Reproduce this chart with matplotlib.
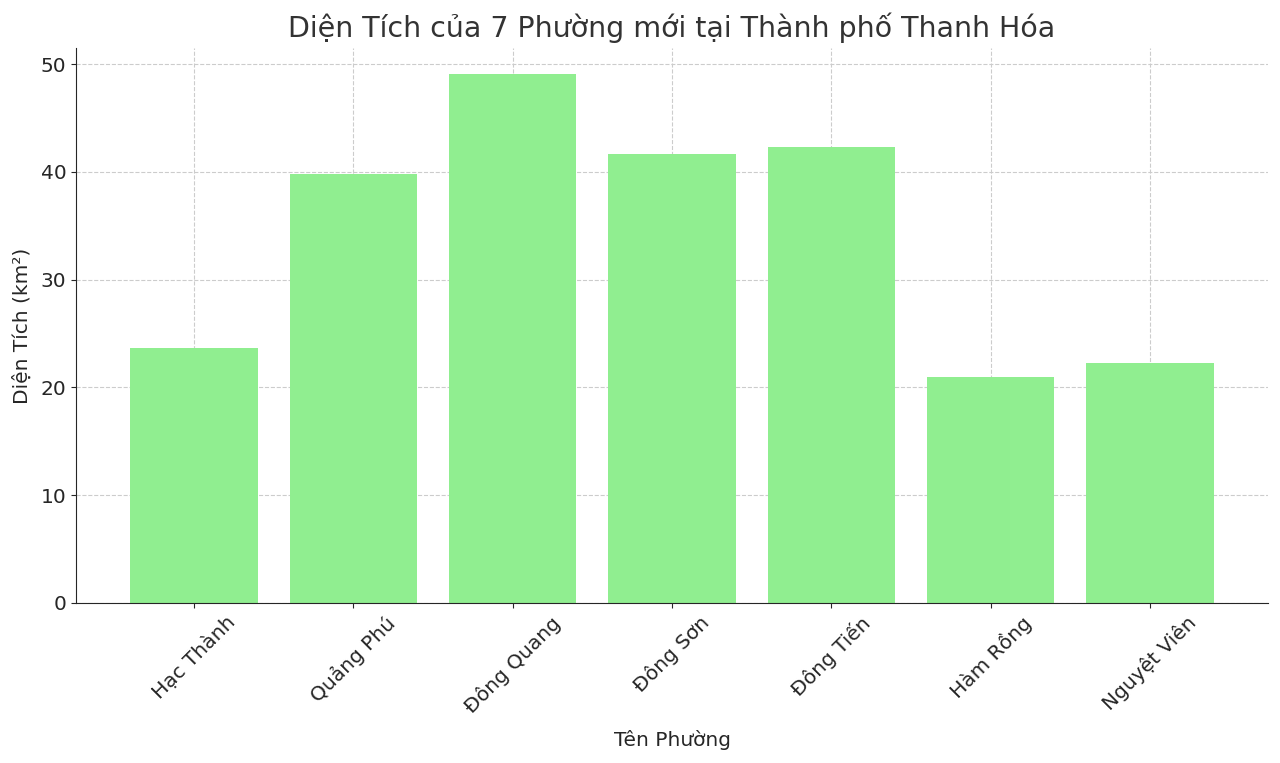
import matplotlib
matplotlib.use('Agg')
import matplotlib.pyplot as plt

phuong = ['Hạc Thành', 'Quảng Phú', 'Đông Quang', 'Đông Sơn', 'Đông Tiến', 'Hàm Rồng', 'Nguyệt Viên']
dien_tich = [23.7, 39.8, 49.1, 41.7, 42.3, 21.0, 22.3]

txt = '#262626'
fig = plt.figure(figsize=(12.8, 7.63), dpi=100)
ax = fig.add_axes([76/1280, 1-603/763, (1268-76)/1280, (603-48)/763])
ax.bar(phuong, dien_tich, color='lightgreen', width=0.8, zorder=2)
ax.grid(True, linestyle='--', color='#cccccc', linewidth=0.8, zorder=0)
ax.spines['top'].set_visible(False)
ax.spines['right'].set_visible(False)
for s in ['left', 'bottom']:
    ax.spines[s].set_color(txt)
ax.set_title('Diện Tích của 7 Phường mới tại Thành phố Thanh Hóa', fontsize=20.5, color='#333333', pad=8)
ax.set_xlabel('Tên Phường', fontsize=14.5, color=txt, labelpad=10)
ax.set_ylabel('Diện Tích (km²)', fontsize=14.5, color=txt, labelpad=6)
ax.tick_params(labelsize=14.5, colors=txt)
plt.setp(ax.get_xticklabels(), rotation=45)
ax.set_ylim(0, 51.5)
fig.savefig('out.png', dpi=100)
